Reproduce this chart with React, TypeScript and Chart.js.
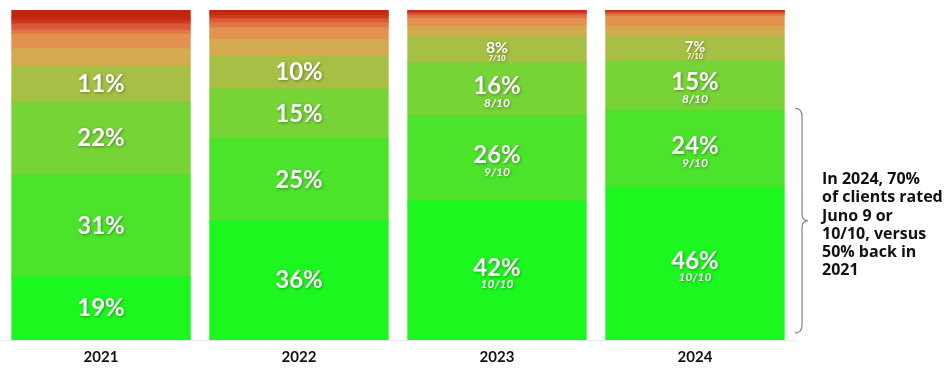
import React, { useEffect, useRef } from "react";
import { Chart, registerables } from "chart.js";

Chart.register(...registerables);

const categories = ["2021", "2022", "2023", "2024"];
const scoreNames = ["10/10", "9/10", "8/10", "7/10", "6/10", "5/10", "4/10", "3/10", "2/10", "1/10", "0/10"];
const scoreValues = [10, 9, 8, 7, 6, 5, 4, 3, 2, 1, 0];

const score10 = [19, 36, 42, 46];
const score9 = [31, 25, 26, 23.6];
const score8 = [22, 15, 16, 15];
const score7 = [11, 10, 8, 7.4];
const score6 = [5.2, 5, 3, 3];
const score5 = [4.5, 3.6, 2.4, 3];
const score4 = [1.2, 1.5, 0.8, 0.6];
const score3 = [1.8, 1.2, 0.6, 0.5];
const score2 = [1.0, 1.0, 0.5, 0.4];
const score1 = [0.8, 0.8, 0.4, 0.3];
const score0 = [2.5, 0.9, 0.3, 0.2];

const showScoreSubLabels = [false, false, true, true];

const annotationLines = ["In 2024, 70%", "of clients rated", "Juno 9 or", "10/10, versus", "50% back in", "2021"];

const colors = [
  "#1cf81f",
  "#4ce42b",
  "#76d436",
  "#a6bf44",
  "#d4aa4e",
  "#e4904f",
  "#e07545",
  "#d85a38",
  "#cc3a1e",
  "#c62c12",
  "#c2240f",
];

const series = [score10, score9, score8, score7, score6, score5, score4, score3, score2, score1, score0];

const labelPlugin = {
  id: "segLabels",
  afterDatasetsDraw(chart: any) {
    const ctx = chart.ctx;
    ctx.save();
    ctx.textAlign = "center";
    ctx.textBaseline = "middle";
    chart.data.datasets.forEach((ds: any, di: number) => {
      if (scoreValues[di] < 7) return;
      const meta = chart.getDatasetMeta(di);
      meta.data.forEach((bar: any, j: number) => {
        const v = ds.data[j];
        const top = Math.min(bar.y, bar.base);
        const bottom = Math.max(bar.y, bar.base);
        const h = bottom - top;
        const center = (top + bottom) / 2;
        const f = h >= 30 ? 24 : h * 0.6;
        const withSub = showScoreSubLabels[j];
        ctx.shadowColor = "rgba(0,0,0,0.35)";
        ctx.shadowBlur = 3;
        ctx.shadowOffsetX = 1;
        ctx.shadowOffsetY = 1;
        ctx.fillStyle = "#ffffff";
        ctx.font = `bold ${f}px Lato`;
        const mainY = withSub ? center - f * 0.12 : center;
        ctx.fillText(`${Math.round(v)}%`, bar.x, mainY);
        if (withSub) {
          ctx.font = `italic bold ${f * 0.5}px Lato`;
          ctx.fillText(scoreNames[di], bar.x, mainY + f * 0.68);
        }
      });
    });
    ctx.restore();
  },
  afterDraw(chart: any) {
    const last = categories.length - 1;
    const topBar = chart.getDatasetMeta(1).data[last];
    const baseBar = chart.getDatasetMeta(0).data[last];
    const top = topBar.y - 2;
    const bottom = baseBar.base - 7;
    const mid = (top + bottom) / 2;
    const right = chart.chartArea.right;
    const xl = right + 1;
    const xm = right + 8;
    const xr = right + 14;
    const ctx = chart.ctx;
    ctx.save();
    ctx.strokeStyle = "#8a8a8a";
    ctx.lineWidth = 1.3;
    ctx.beginPath();
    ctx.moveTo(xl, top);
    ctx.quadraticCurveTo(xm, top, xm, top + 8);
    ctx.lineTo(xm, mid - 7);
    ctx.quadraticCurveTo(xm, mid, xr, mid);
    ctx.quadraticCurveTo(xm, mid, xm, mid + 7);
    ctx.lineTo(xm, bottom - 8);
    ctx.quadraticCurveTo(xm, bottom, xl, bottom);
    ctx.stroke();
    ctx.restore();
  },
};

export default function App() {
  const canvasRef = useRef<HTMLCanvasElement | null>(null);

  useEffect(() => {
    if (!canvasRef.current) return;
    const chart = new Chart(canvasRef.current, {
      type: "bar",
      data: {
        labels: categories,
        datasets: series.map((data, i) => ({
          label: scoreNames[i],
          data,
          backgroundColor: colors[i],
          borderWidth: 0,
          inflateAmount: 0.6,
          categoryPercentage: 1,
          barPercentage: 0.9,
        })),
      },
      options: {
        animation: false,
        responsive: true,
        maintainAspectRatio: false,
        layout: { padding: { left: 2, right: 158, top: 10, bottom: 0 } },
        plugins: {
          legend: { display: false },
          tooltip: { enabled: false },
        },
        scales: {
          x: {
            stacked: true,
            grid: { display: false, drawTicks: false },
            border: { display: true, color: "#e4e9f0", width: 1 },
            ticks: {
              color: "#111111",
              font: { family: "Lato", weight: "bold", size: 15 },
              padding: 8,
            },
            afterFit: (scale: any) => {
              scale.height = 28;
            },
          },
          y: {
            stacked: true,
            display: false,
            min: 0,
            max: 100,
          },
        },
      },
      plugins: [labelPlugin],
    });
    return () => chart.destroy();
  }, []);

  return (
    <div style={{ position: "absolute", left: 0, top: 0, width: 952, height: 368, background: "#ffffff" }}>
      <canvas ref={canvasRef} />
      <div
        style={{
          position: "absolute",
          left: 822,
          top: 169,
          fontFamily: "'Open Sans'",
          fontWeight: "bold",
          fontSize: 16,
          lineHeight: "18.3px",
          color: "#111111",
          whiteSpace: "nowrap",
        }}
      >
        {annotationLines.map((l, i) => (
          <div key={i}>{l}</div>
        ))}
      </div>
    </div>
  );
}
